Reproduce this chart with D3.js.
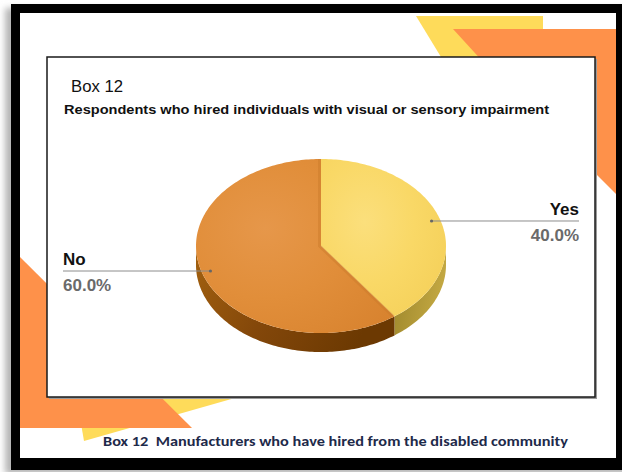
<!DOCTYPE html>
<html>
<head>
<meta charset="utf-8">
<script src="https://cdn.jsdelivr.net/npm/d3@7"></script>
<style>
  html, body { margin: 0; padding: 0; background: #ffffff; }
  svg { display: block; }
  text { font-family: "Liberation Sans", Arial, sans-serif; }
</style>
</head>
<body>
<script>
// Survey answers: share of respondents who hired people with visual or sensory impairment
const categories = ["Yes", "No"];
const values = [40.0, 60.0];
const topColors = [["#fbdf7c", "#f9d866", "#f4cf58"], ["#e6974a", "#e18e3a", "#d8832f"]];
const sideColors = [["#9a842a", "#c3a842"], ["#a3610f", "#83470a", "#6c3902"]];

const W = 622, H = 472;
const svg = d3.select("body").append("svg").attr("width", W).attr("height", H);
const defs = svg.append("defs");

// soft drop shadow behind the framed page
defs.append("filter").attr("id", "soft").attr("x", "-5%").attr("y", "-5%").attr("width", "110%").attr("height", "110%")
  .append("feGaussianBlur").attr("stdDeviation", 3);

function radial(id, stops, cx, cy) {
  const g = defs.append("radialGradient").attr("id", id)
    .attr("cx", cx).attr("cy", cy).attr("r", 0.8);
  stops.forEach((c, i) => g.append("stop").attr("offset", i / (stops.length - 1)).attr("stop-color", c));
}
function linear(id, stops) {
  const g = defs.append("linearGradient").attr("id", id)
    .attr("x1", 0).attr("y1", 0).attr("x2", 1).attr("y2", 0.3);
  stops.forEach((c, i) => g.append("stop").attr("offset", i / (stops.length - 1)).attr("stop-color", c));
}
radial("top0", topColors[0], 0.35, 0.4);
radial("top1", topColors[1], 0.35, 0.4);
linear("side0", sideColors[0]);
linear("side1", sideColors[1]);

// page background, shadow and heavy black frame
svg.append("rect").attr("x", 5).attr("y", 8).attr("width", 640).attr("height", 466)
  .attr("fill", "#b5b5b5").attr("filter", "url(#soft)");
svg.append("rect").attr("x", 11).attr("y", 4).attr("width", 640).attr("height", 466).attr("fill", "#000");
svg.append("rect").attr("x", 20).attr("y", 13).attr("width", 596).attr("height", 445).attr("fill", "#fff");

// decorative ribbons
const deco = svg.append("g");
const poly = pts => "M" + pts.map(p => p.join(",")).join("L") + "Z";
deco.append("path").attr("d", poly([[416, 16], [543, 16], [543, 80], [455, 80]])).attr("fill", "#fedb5a");
deco.append("path").attr("d", poly([[453, 29], [616, 29], [616, 194], [520, 98], [485, 64]])).attr("fill", "#fe914a");
deco.append("path").attr("d", poly([[84, 441], [70, 360], [270, 360], [270, 388]])).attr("fill", "#fedb5a");
deco.append("path").attr("d", poly([[20, 257], [20, 428], [192, 428]])).attr("fill", "#fe914a");

// chart box
svg.append("rect").attr("x", 49).attr("y", 59).attr("width", 548).attr("height", 340).attr("fill", "#9a9a9a");
svg.append("rect").attr("x", 47).attr("y", 57).attr("width", 548).attr("height", 340)
  .attr("fill", "#fff").attr("stroke", "#1a1a1a").attr("stroke-width", 1.5);

svg.append("text").attr("x", 71).attr("y", 92).attr("font-size", 16).attr("fill", "#111")
  .attr("textLength", 52).attr("lengthAdjust", "spacingAndGlyphs").text("Box 12");
svg.append("text").attr("x", 64).attr("y", 114).attr("font-size", 12).attr("font-weight", "bold").attr("fill", "#111")
  .attr("textLength", 485).attr("lengthAdjust", "spacingAndGlyphs")
  .text("Respondents who hired individuals with visual or sensory impairment");

// 3D pie: elliptical top face with a visible front wall
const cx = 321, cy = 246, rx = 125, ry = 87, depth = 19;
const pie = d3.pie().sort(null).startAngle(0).endAngle(2 * Math.PI).value(d => d);
const arcs = pie(values);
const pt = (a, k = 1, dy = 0) => [cx + k * rx * Math.sin(a), cy - k * ry * Math.cos(a) + dy];
const line = d3.line();

function rim(a0, a1, dy) {
  const n = Math.max(2, Math.ceil((a1 - a0) / 0.02));
  return d3.range(n + 1).map(i => pt(a0 + (a1 - a0) * i / n, 1, dy));
}

const pieG = svg.append("g");
// front walls (only the part of each slice facing the viewer)
arcs.forEach((d, i) => {
  const a0 = Math.max(d.startAngle, Math.PI / 2), a1 = Math.min(d.endAngle, 1.5 * Math.PI);
  if (a1 <= a0) return;
  const pts = rim(a0, a1, 0).concat(rim(a0, a1, depth).reverse());
  pieG.append("path").attr("d", line(pts) + "Z").attr("fill", `url(#side${i})`);
});
// top faces
arcs.forEach((d, i) => {
  const pts = [[cx, cy]].concat(rim(d.startAngle, d.endAngle, 0));
  pieG.append("path").attr("d", line(pts) + "Z").attr("fill", `url(#top${i})`);
});
// slight shading along the No slice's cut edges
const noArc = arcs[1];
pieG.append("path")
  .attr("d", line([pt(noArc.endAngle), [cx, cy], pt(noArc.startAngle)]))
  .attr("fill", "none").attr("stroke", "#c9792a").attr("stroke-width", 3).attr("stroke-opacity", 0.45)
  .attr("transform", "translate(-1.5,0)");

// leader lines and labels
const fmt = d3.format(".1f");
const labelX = [579, 63];
arcs.forEach((d, i) => {
  const mid = (d.startAngle + d.endAngle) / 2;
  const [px, py] = pt(mid, 0.93);
  const right = Math.sin(mid) > 0;
  const lx = labelX[i];
  svg.append("line").attr("x1", px).attr("y1", py).attr("x2", lx).attr("y2", py)
    .attr("stroke", "#8c8c8c").attr("stroke-width", 1);
  svg.append("circle").attr("cx", px).attr("cy", py).attr("r", 1.6).attr("fill", "#666");
  const anchor = right ? "end" : "start";
  svg.append("text").attr("x", lx).attr("y", py - 6).attr("text-anchor", anchor)
    .attr("font-size", 17).attr("font-weight", "bold").attr("fill", "#111").text(categories[i]);
  svg.append("text").attr("x", lx).attr("y", py + 20).attr("text-anchor", anchor)
    .attr("font-size", 17).attr("font-weight", "bold").attr("fill", "#6a6a6a")
    .text(fmt(d.data) + "%");
});

// caption below the box
svg.append("text").attr("x", 103).attr("y", 446)
  .style("white-space", "pre")
  .style("font-family", "Carlito, Lato, 'Open Sans', sans-serif")
  .attr("font-size", 13).attr("font-weight", "bold").attr("fill", "#1e2a4a")
  .attr("textLength", 465).attr("lengthAdjust", "spacingAndGlyphs")
  .text("Box 12  Manufacturers who have hired from the disabled community");
</script>
</body>
</html>
